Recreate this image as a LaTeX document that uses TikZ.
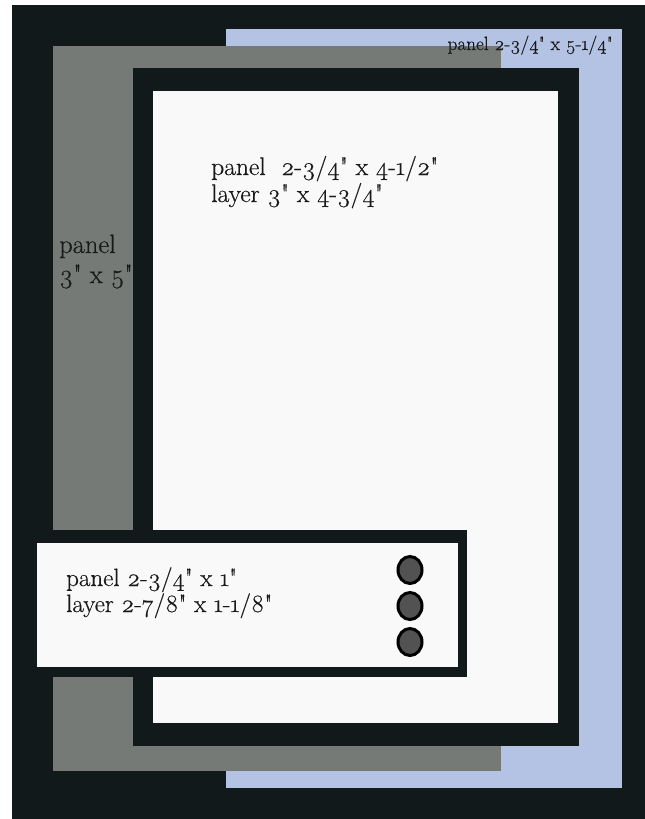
\documentclass[tikz,border=0pt]{standalone}
\usepackage{fontspec}
\setmainfont{Latin Modern Roman}[Numbers=OldStyle,Ligatures=TeXOff,FakeBold=0.4]

\definecolor{bgdark}{RGB}{18,25,27}
\definecolor{cardblue}{RGB}{180,194,228}
\definecolor{cardgray}{RGB}{118,122,119}
\definecolor{cardwhite}{RGB}{249,249,249}

\begin{document}
\begin{tikzpicture}[x=1pt,y=-1pt,
    lbl/.style={anchor=base west,inner sep=0pt,text=black!90,align=left,
      font=\fontsize{25.5}{27}\selectfont},
    brad/.style={draw=black,line width=3pt,fill=black!68}]
      \useasboundingbox (0,0) rectangle (645,819);
      \fill[white] (0,0) rectangle (645,819);
      \fill[bgdark] (12,5) rectangle (645,819);

      % card layers
      \fill[cardblue] (226,29) rectangle (622,788);
      \fill[cardgray] (53,46) rectangle (501,771);
      \fill[bgdark] (133,68) rectangle (579,746);
      \fill[cardwhite] (153,91) rectangle (558,723);
      \fill[bgdark] (20,530) rectangle (467,677);
      \fill[cardwhite] (37,543) rectangle (458,667);

      % brads
      \foreach \y in {570,606,642}
        \draw[brad] (410,\y) ellipse [x radius=12pt, y radius=13.5pt];

      % labels (anchored on the last line)
      \node[lbl,anchor=base east,font=\fontsize{19.2}{20}\selectfont] (blue) at (613,50) {panel 2-3/4" x 5-1/4"};
      \node[lbl] (white) at (211,202) {panel\ \ 2-3/4" x 4-1/2"\\layer 3" x 4-3/4"};
      \node[lbl,font=\fontsize{26.5}{30}\selectfont] (gray) at (59,283) {panel\\3" x 5"};
      \node[lbl,font=\fontsize{25}{26}\selectfont] (strip) at (66,612) {panel 2-3/4" x 1"\\layer 2-7/8" x 1-1/8"};
    \end{tikzpicture}
\end{document}
